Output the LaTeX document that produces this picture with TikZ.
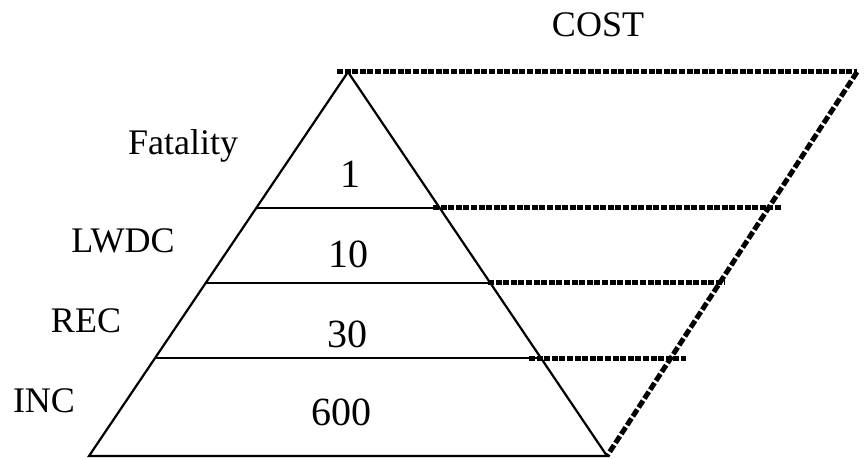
\documentclass[tikz,border=0pt]{standalone}
\usepackage{fontspec}
\setmainfont{Liberation Serif}
\usetikzlibrary{calc}
\begin{document}
\begin{tikzpicture}[x=1pt,y=1pt,
  solidline/.style={line width=2.2pt},
  dotline/.style={line width=5pt, dash pattern=on 6pt off 1.6pt},
  dashline/.style={line width=5pt, dash pattern=on 8pt off 2.6pt},
  lab/.style={anchor=base, inner sep=0pt, font=\fontsize{36}{40}\selectfont},
  num/.style={anchor=base, inner sep=0pt, font=\fontsize{40}{44}\selectfont}]
\useasboundingbox (0,0) rectangle (864,458);
% key points
\coordinate (A) at (348,386);
\coordinate (BL) at (89,2);
\coordinate (BR) at (607,2);
\coordinate (T0) at (337,386);
\coordinate (T1) at (857,386);
% level points on triangle sides
\coordinate (L1a) at ($(A)!0.3542!(BL)$);
\coordinate (L1b) at ($(A)!0.3542!(BR)$);
\coordinate (L2a) at ($(A)!0.5495!(BL)$);
\coordinate (L2b) at ($(A)!0.5495!(BR)$);
\coordinate (L3a) at ($(A)!0.7448!(BL)$);
\coordinate (L3b) at ($(A)!0.7448!(BR)$);
% dotted line ends
\coordinate (D1s) at (433,250);
\coordinate (D1e) at (781,250);
\coordinate (D2s) at (488,175);
\coordinate (D2e) at (724,175);
\coordinate (D3s) at (529,100);
\coordinate (D3e) at (686,100);
% triangle
\draw[solidline, line join=miter] (A) -- (BL) -- (BR) -- cycle;
\draw[solidline] (L1a) -- (L1b);
\draw[solidline] (L2a) -- (L2b);
\draw[solidline] (L3a) -- (L3b);
% cost parallelogram
\draw[dotline] (T0) -- (T1);
\draw[dashline] (T1) -- (BR);
\draw[dotline] (D1s) -- (D1e);
\draw[dotline] (D2s) -- (D2e);
\draw[dotline] (D3s) -- (D3e);
% labels
\node[lab] (cost) at (598,421) {COST};
\node[lab] (fat) at (183,303) {Fatality};
\node[lab] (lwdc) at (123,205) {LWDC};
\node[lab] (rec) at (86,126) {REC};
\node[lab] (inc) at (44,46) {INC};
\node[num] (n1) at (350,270) {1};
\node[num] (n10) at (348,190) {10};
\node[num] (n30) at (347,111) {30};
\node[num] (n600) at (341,33) {600};
\end{tikzpicture}
\end{document}
